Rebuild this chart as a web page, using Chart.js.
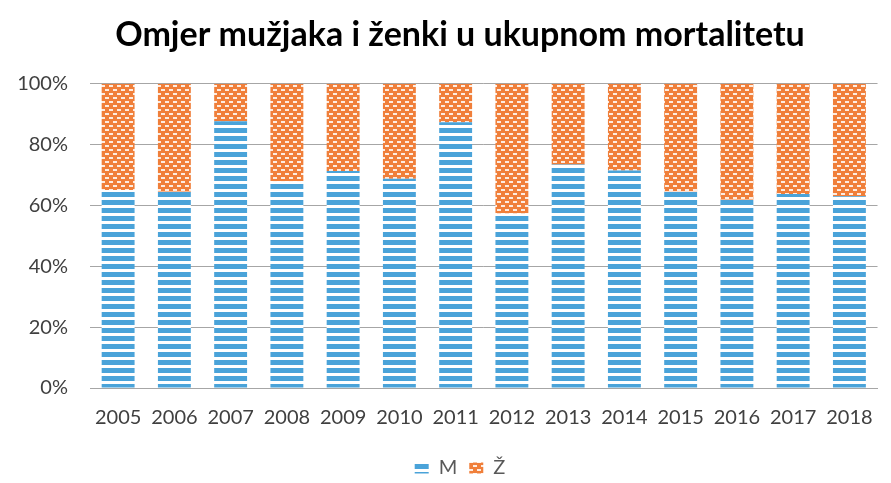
<!DOCTYPE html>
<html>
<head>
<meta charset="utf-8">
<script src="https://cdn.jsdelivr.net/npm/chart.js@4"></script>
<style>
html,body{margin:0;padding:0;background:#fff;}
#wrap{width:891px;height:483px;position:relative;}
</style>
</head>
<body>
<div id="wrap"><canvas id="c" width="891" height="483"></canvas></div>
<script>
const categories = ['2005','2006','2007','2008','2009','2010','2011','2012','2013','2014','2015','2016','2017','2018'];
const maleShare = [65.1, 64.5, 87.7, 68.0, 71.3, 68.8, 87.4, 57.4, 73.5, 71.5, 64.6, 61.9, 63.8, 63.0];
const femaleShare = [34.9, 35.5, 12.3, 32.0, 28.7, 31.2, 12.6, 42.6, 26.5, 28.5, 35.4, 38.1, 36.2, 37.0];
const yTicks = [0, 20, 40, 60, 80, 100];
const seriesNames = ['M', 'Ž'];
const titleText = 'Omjer mužjaka i ženki u ukupnom mortalitetu';

function stripePattern() {
  const c = document.createElement('canvas');
  c.width = 8; c.height = 8;
  const g = c.getContext('2d');
  g.fillStyle = '#ffffff'; g.fillRect(0,0,8,8);
  g.fillStyle = '#4aa3d9'; g.fillRect(0,0,8,5);
  return g.createPattern(c, 'repeat');
}
function confettiPattern() {
  const c = document.createElement('canvas');
  c.width = 8; c.height = 8;
  const g = c.getContext('2d');
  g.fillStyle = '#f07f3a'; g.fillRect(0,0,8,8);
  g.fillStyle = 'rgba(255,255,255,0.85)';
  g.fillRect(1,1,4,2);
  g.fillRect(5,5,4,2);
  g.fillRect(-3,5,4,2);
  return g.createPattern(c, 'repeat');
}

const shiftBlocks = {
  id: 'shiftBlocks',
  afterLayout(chart) {
    if (chart.titleBlock) chart.titleBlock.left = 40;
    if (chart.legend) chart.legend.left = 40;
  }
};

const ctx = document.getElementById('c').getContext('2d');
new Chart(ctx, {
  type: 'bar',
  data: {
    labels: categories,
    datasets: [
      { label: seriesNames[0], data: maleShare, backgroundColor: stripePattern(), borderWidth: 0,
        categoryPercentage: 1, barPercentage: 0.585 },
      { label: seriesNames[1], data: femaleShare, backgroundColor: confettiPattern(), borderWidth: 0,
        categoryPercentage: 1, barPercentage: 0.585 }
    ]
  },
  plugins: [shiftBlocks],
  options: {
    responsive: false,
    animation: false,
    layout: { padding: { left: 0, right: 11, top: 0, bottom: -5 } },
    plugins: {
      title: {
        display: true, text: titleText, color: '#000',
        font: { family: 'Lato', size: 34, weight: 'bold' },
        padding: { top: 15, bottom: 28 }
      },
      legend: {
        position: 'bottom',
        labels: {
          color: '#595959', font: { family: 'Lato', size: 20 },
          boxWidth: 14, boxHeight: 11, padding: 12
        }
      },
      tooltip: { enabled: false }
    },
    scales: {
      x: {
        stacked: true,
        afterFit: (s) => { s.height = 58; },
        grid: { display: false, drawTicks: false },
        border: { display: true, color: '#a6a6a6', width: 1 },
        ticks: { color: '#404040', font: { family: 'Lato', size: 20 }, padding: 18, maxRotation: 0, autoSkip: false }
      },
      y: {
        stacked: true, min: 0, max: 100,
        afterBuildTicks: (s) => { s.ticks = yTicks.map(v => ({ value: v })); },
        afterFit: (s) => { s.width = 90; },
        grid: { color: '#a6a6a6', drawTicks: false },
        border: { display: false },
        ticks: { color: '#404040', font: { family: 'Lato', size: 20 }, padding: 22, callback: v => v + '%' }
      }
    }
  }
});
</script>
</body>
</html>
